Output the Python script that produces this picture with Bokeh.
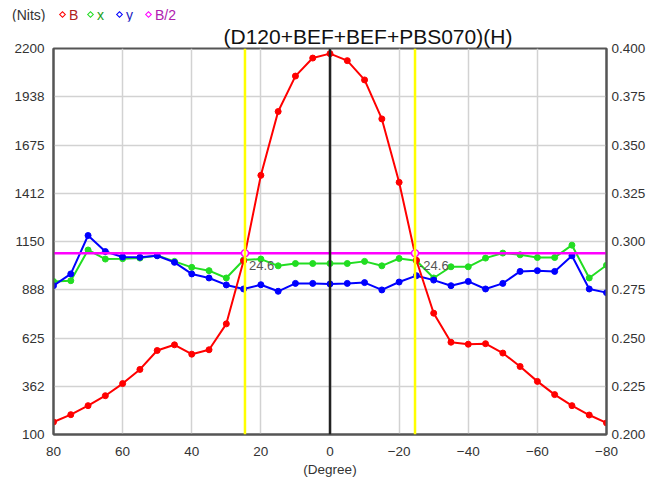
from bokeh.plotting import figure
from bokeh.layouts import column
from bokeh.models import (Range1d, LinearAxis, FixedTicker, Span, Label, NumeralTickFormatter,
                          Title, Div)
from bokeh.embed import file_html
from bokeh.resources import INLINE

# ---------------- data ----------------
degrees = [80, 75, 70, 65, 60, 55, 50, 45, 40, 35, 30, 25, 20, 15, 10, 5, 0,
           -5, -10, -15, -20, -25, -30, -35, -40, -45, -50, -55, -60, -65, -70, -75, -80]
lum_B = [168, 208, 257, 311, 377, 454, 557, 588, 537, 561, 702, 1045, 1510, 1857, 2050, 2148, 2172,
         2134, 2029, 1817, 1472, 1048, 760, 602, 591, 594, 543, 470, 389, 317, 257, 206, 163]
chroma_x = [0.2793, 0.2797, 0.2956, 0.2909, 0.2911, 0.2914, 0.2928, 0.2897, 0.2866, 0.2849, 0.2811,
            0.2904, 0.2909, 0.2874, 0.2886, 0.2886, 0.2886, 0.2886, 0.2897, 0.2874, 0.2912, 0.2900,
            0.2811, 0.2869, 0.2869, 0.2914, 0.2940, 0.2931, 0.2917, 0.2917, 0.2981, 0.2811, 0.2877]
chroma_y = [0.2771, 0.2832, 0.3031, 0.2948, 0.2920, 0.2918, 0.2926, 0.2892, 0.2832, 0.2811, 0.2775,
            0.2754, 0.2776, 0.2742, 0.2783, 0.2783, 0.2780, 0.2783, 0.2787, 0.2749, 0.2790, 0.2823,
            0.2800, 0.2771, 0.2793, 0.2754, 0.2783, 0.2845, 0.2849, 0.2845, 0.2926, 0.2754, 0.2735]
half_B = 1086
half_angles = [24.6, -24.6]
half_labels = ["24.6", "-24.6"]

left_ticks = [100, 362.5, 625, 887.5, 1150, 1412.5, 1675, 1937.5, 2200]
left_tick_labels = ["100", "362", "625", "888", "1150", "1412", "1675", "1938", "2200"]
right_ticks = [0.2, 0.225, 0.25, 0.275, 0.3, 0.325, 0.35, 0.375, 0.4]
x_ticks = [80, 60, 40, 20, 0, -20, -40, -60, -80]

title_text = "(D120+BEF+BEF+PBS070)(H)"
unit_text = "(Nits)"
x_label = "(Degree)"
legend_names = ["B", "x", "y", "B/2"]

# ---------------- style ----------------
FONT = "Liberation Sans"
RED, GREEN, BLUE, MAGENTA = "#ff0000", "#22dd22", "#0000ff", "#ff00ff"
legend_colors = [RED, GREEN, BLUE, MAGENTA]
legend_text_colors = ["#b02020", "#20a020", "#2020c0", "#b020b0"]
legend_left = [60, 88, 117, 146]
HEAD_H = 21

# ---------------- header: unit + legend ----------------
parts = ['<div style="position:relative;width:649px;height:%dpx;font-family:\'%s\';'
         'font-size:14px;line-height:14px;color:#333333;">' % (HEAD_H, FONT),
         '<span style="position:absolute;left:12px;top:8px;">%s</span>' % unit_text]
for name, col, tcol, lx in zip(legend_names, legend_colors, legend_text_colors, legend_left):
    parts.append('<span style="position:absolute;left:%dpx;top:12px;width:5px;height:5px;'
                 'border:1.3px solid %s;transform:rotate(45deg);"></span>' % (lx, col))
    parts.append('<span style="position:absolute;left:%dpx;top:8px;color:%s;">%s</span>'
                 % (lx + 9, tcol, name))
parts.append('</div>')
head = Div(text="".join(parts), width=649, height=HEAD_H, margin=0)

# ---------------- main chart ----------------
p = figure(width=649, height=486 - HEAD_H, output_backend="svg", toolbar_location=None,
           x_range=Range1d(80, -80), y_range=Range1d(100, 2200),
           min_border_left=53, min_border_right=43, min_border_top=47 - HEAD_H,
           min_border_bottom=52)
p.extra_y_ranges = {"r": Range1d(0.2, 0.4)}
p.background_fill_color = "white"
p.border_fill_color = "white"
p.outline_line_color = "#555555"
p.outline_line_width = 2

p.xaxis.ticker = FixedTicker(ticks=x_ticks)
p.yaxis.ticker = FixedTicker(ticks=left_ticks)
p.yaxis.major_label_overrides = {t: l for t, l in zip(left_ticks, left_tick_labels)}
raxis = LinearAxis(y_range_name="r", ticker=FixedTicker(ticks=right_ticks),
                   formatter=NumeralTickFormatter(format="0.000"))
p.add_layout(raxis, "right")

for ax in [p.xaxis[0], p.yaxis[0], raxis]:
    ax.axis_line_color = "#555555"
    ax.axis_line_width = 2
    ax.major_tick_line_color = None
    ax.minor_tick_line_color = None
    ax.major_tick_out = 0
    ax.major_tick_in = 0
    ax.minor_tick_out = 0
    ax.minor_tick_in = 0
    ax.major_label_text_font = FONT
    ax.major_label_text_font_size = "13.5px"
    ax.major_label_text_color = "#333333"
p.yaxis[0].major_label_standoff = 9
raxis.major_label_standoff = 5
p.xaxis.major_label_standoff = 12
p.xaxis.axis_label = x_label
p.xaxis.axis_label_standoff = 3
p.xaxis.axis_label_text_font = FONT
p.xaxis.axis_label_text_font_style = "normal"
p.xaxis.axis_label_text_font_size = "13.5px"
p.xaxis.axis_label_text_color = "#333333"

p.xgrid.ticker = FixedTicker(ticks=x_ticks)
p.ygrid.ticker = FixedTicker(ticks=left_ticks)
p.grid.grid_line_color = "#d2d2d2"
p.grid.grid_line_width = 1.5

for a in half_angles:
    p.add_layout(Span(location=a, dimension="height", line_color="#ffff00", line_width=2.5))
p.add_layout(Span(location=0, dimension="height", line_color="#222222", line_width=2.5))

p.line(degrees, chroma_x, y_range_name="r", line_color=GREEN, line_width=2)
p.scatter(degrees, chroma_x, y_range_name="r", size=6, fill_color=GREEN, line_color=GREEN)
p.line(degrees, chroma_y, y_range_name="r", line_color=BLUE, line_width=2)
p.scatter(degrees, chroma_y, y_range_name="r", size=6, fill_color=BLUE, line_color=BLUE)
p.line([degrees[0], degrees[-1]], [half_B, half_B], line_color=MAGENTA, line_width=2.5)
p.line(degrees, lum_B, line_color=RED, line_width=2)
p.scatter(degrees, lum_B, size=6, fill_color=RED, line_color=RED)
p.scatter(half_angles, [half_B] * len(half_angles), size=7, fill_color="white",
          line_color=MAGENTA, line_width=1.5)

for a, t in zip(half_angles, half_labels):
    p.add_layout(Label(x=a, y=half_B, text=t, x_offset=4, y_offset=-8, text_baseline="top",
                       text_font=FONT, text_font_size="13px", text_color="#555555"))

p.add_layout(Title(text=title_text, align="left", offset=170, standoff=2,
                   text_font=FONT, text_font_size="21px", text_font_style="normal",
                   text_color="#111111"), "above")

layout = column(head, p, spacing=0)
open("out.html", "w").write(file_html(layout, INLINE))
